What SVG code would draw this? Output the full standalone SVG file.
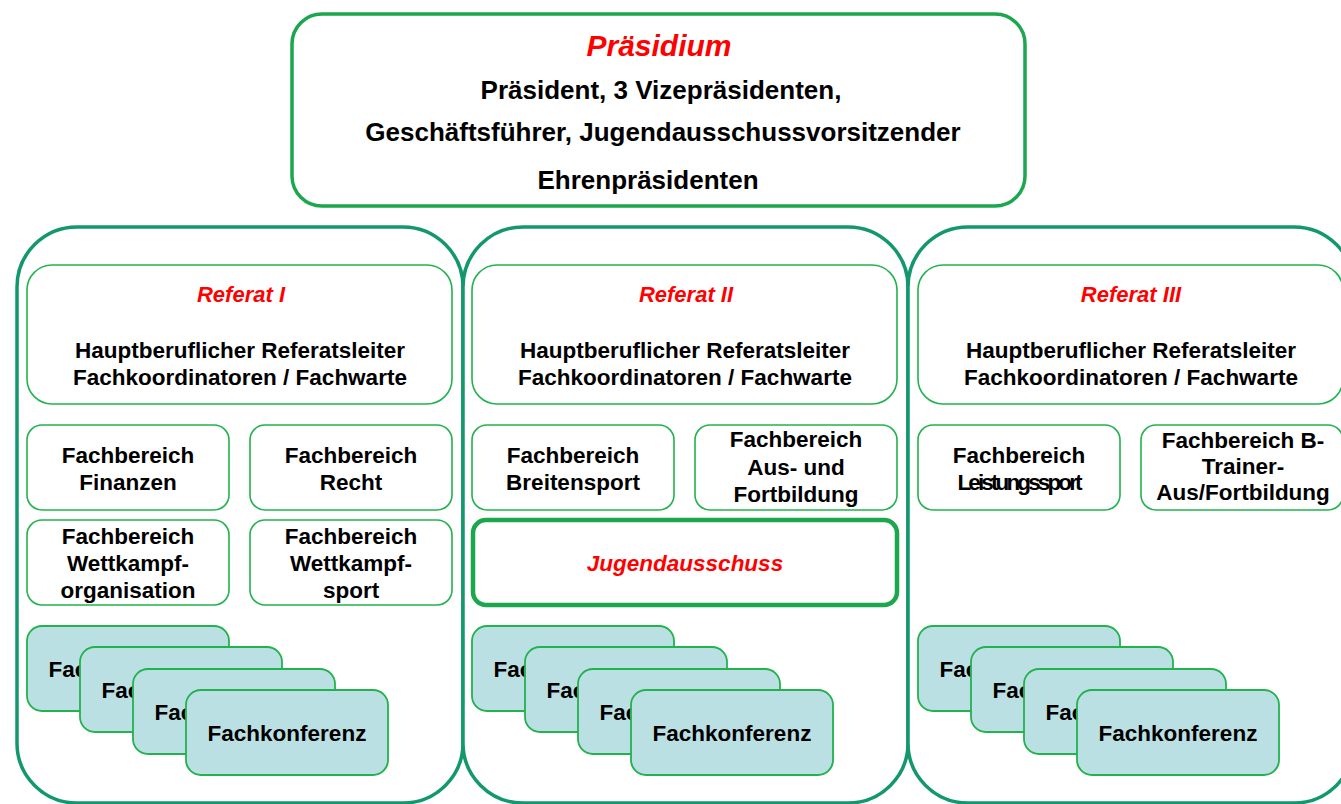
<svg xmlns="http://www.w3.org/2000/svg" width="1341" height="804" viewBox="0 0 1341 804">
<style>
text{font-family:"Liberation Sans",Arial,sans-serif;font-weight:bold;text-anchor:middle;fill:#000}
.t{font-size:22.5px}
.red{fill:#ff0000;font-style:italic}
.outer{fill:#fff;stroke:#13976d;stroke-width:3.5}
.pres{fill:#fff;stroke:#1ca74f;stroke-width:3.5}
.box{fill:#fff;stroke:#22b24e;stroke-width:1.6}
.jug{fill:#fff;stroke:#1ca74f;stroke-width:4.5}
.fk{fill:#bbe0e3;stroke:#22b24e;stroke-width:1.8}
</style>
<rect width="1341" height="804" fill="#fff"/>
<g id="praesidium">
<rect class="pres" x="292" y="14" width="733" height="192" rx="30"/>
<text class="red" x="659" y="56" style="font-size:30px">Präsidium</text>
<text x="661" y="99" style="font-size:26px">Präsident, 3 Vizepräsidenten,</text>
<text x="663" y="141" style="font-size:26px">Geschäftsführer, Jugendausschussvorsitzender</text>
<text x="648" y="189" style="font-size:26px">Ehrenpräsidenten</text>
</g>
<g id="referat1">
<rect class="outer" x="17" y="227" width="446" height="576" rx="60"/>
<rect class="box" x="27" y="265" width="425" height="139" rx="25"/>
<text class="t red" x="241" y="302" style="font-size:22px">Referat I</text>
<text class="t" x="240" y="358">Hauptberuflicher Referatsleiter</text>
<text class="t" x="240" y="385">Fachkoordinatoren / Fachwarte</text>
</g>
<g id="fb-finanzen"><rect class="box" x="27" y="425" width="202" height="85" rx="15"/><text class="t" x="128" y="463">Fachbereich</text><text class="t" x="128" y="490">Finanzen</text></g>
<g id="fb-recht"><rect class="box" x="250" y="425" width="202" height="85" rx="15"/><text class="t" x="351" y="463">Fachbereich</text><text class="t" x="351" y="490">Recht</text></g>
<g id="fb-wko"><rect class="box" x="27" y="520" width="202" height="85" rx="15"/><text class="t" x="128" y="544">Fachbereich</text><text class="t" x="128" y="571">Wettkampf-</text><text class="t" x="128" y="598">organisation</text></g>
<g id="fb-wks"><rect class="box" x="250" y="520" width="202" height="85" rx="15"/><text class="t" x="351" y="544">Fachbereich</text><text class="t" x="351" y="571">Wettkampf-</text><text class="t" x="351" y="598">sport</text></g>
<g id="fk1">
<rect class="fk" x="27" y="626" width="202" height="85" rx="15"/><text class="t" x="128" y="677">Fachkonferenz</text>
<rect class="fk" x="80" y="647" width="202" height="85" rx="15"/><text class="t" x="181" y="698">Fachkonferenz</text>
<rect class="fk" x="133" y="669" width="202" height="85" rx="15"/><text class="t" x="234" y="720">Fachkonferenz</text>
<rect class="fk" x="186" y="690" width="202" height="85" rx="15"/><text class="t" x="287" y="741">Fachkonferenz</text>
</g>
<g id="referat2">
<rect class="outer" x="463" y="227" width="445" height="576" rx="60"/>
<rect class="box" x="472" y="265" width="425" height="139" rx="25"/>
<text class="t red" x="686" y="302" style="font-size:22px">Referat II</text>
<text class="t" x="685" y="358">Hauptberuflicher Referatsleiter</text>
<text class="t" x="685" y="385">Fachkoordinatoren / Fachwarte</text>
</g>
<g id="fb-breitensport"><rect class="box" x="472" y="425" width="202" height="85" rx="15"/><text class="t" x="573" y="463">Fachbereich</text><text class="t" x="573" y="490">Breitensport</text></g>
<g id="fb-ausfort"><rect class="box" x="695" y="425" width="202" height="85" rx="15"/><text class="t" x="796" y="447">Fachbereich</text><text class="t" x="796" y="475">Aus- und</text><text class="t" x="796" y="502">Fortbildung</text></g>
<g id="jugendausschuss"><rect class="jug" x="473" y="520" width="424" height="85" rx="13"/><text class="t red" x="685" y="571">Jugendausschuss</text></g>
<g id="fk2">
<rect class="fk" x="472" y="626" width="202" height="85" rx="15"/><text class="t" x="573" y="677">Fachkonferenz</text>
<rect class="fk" x="525" y="647" width="202" height="85" rx="15"/><text class="t" x="626" y="698">Fachkonferenz</text>
<rect class="fk" x="578" y="669" width="202" height="85" rx="15"/><text class="t" x="679" y="720">Fachkonferenz</text>
<rect class="fk" x="631" y="690" width="202" height="85" rx="15"/><text class="t" x="732" y="741">Fachkonferenz</text>
</g>
<g id="referat3">
<rect class="outer" x="908" y="227" width="446" height="576" rx="60"/>
<rect class="box" x="918" y="265" width="425" height="139" rx="25"/>
<text class="t red" x="1131" y="302" style="font-size:22px">Referat III</text>
<text class="t" x="1131" y="358">Hauptberuflicher Referatsleiter</text>
<text class="t" x="1131" y="385">Fachkoordinatoren / Fachwarte</text>
</g>
<g id="fb-leistungssport"><rect class="box" x="918" y="425" width="202" height="85" rx="15"/><text class="t" x="1019" y="463">Fachbereich</text><text class="t" x="1020" y="490" textLength="125" lengthAdjust="spacing">Leistungssport</text></g>
<g id="fb-btrainer"><rect class="box" x="1141" y="425" width="202" height="85" rx="15"/><text class="t" x="1243" y="448">Fachbereich B-</text><text class="t" x="1243" y="474">Trainer-</text><text class="t" x="1243" y="500">Aus/Fortbildung</text></g>
<g id="fk3">
<rect class="fk" x="918" y="626" width="202" height="85" rx="15"/><text class="t" x="1019" y="677">Fachkonferenz</text>
<rect class="fk" x="971" y="647" width="202" height="85" rx="15"/><text class="t" x="1072" y="698">Fachkonferenz</text>
<rect class="fk" x="1024" y="669" width="202" height="85" rx="15"/><text class="t" x="1125" y="720">Fachkonferenz</text>
<rect class="fk" x="1077" y="690" width="202" height="85" rx="15"/><text class="t" x="1178" y="741">Fachkonferenz</text>
</g>
<g id="connectors"></g>
</svg>
